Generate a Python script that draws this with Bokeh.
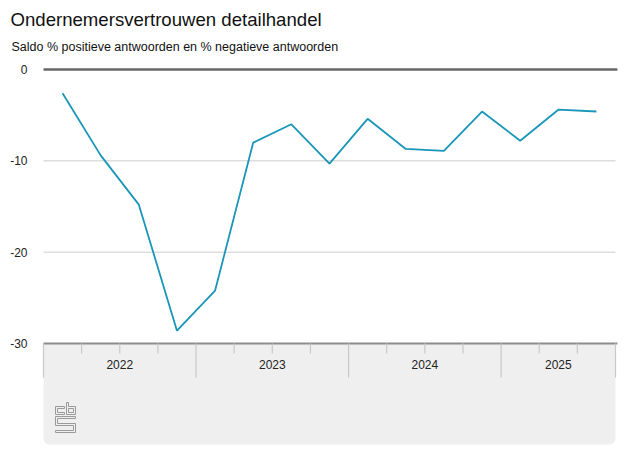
from bokeh.plotting import figure
from bokeh.models import Range1d, BoxAnnotation
from bokeh.core.properties import value
from bokeh.embed import file_html
from bokeh.resources import INLINE

# ---- data ----
years = ["2022", "2023", "2024", "2025"]
quarters_per_year = [4, 4, 4, 3]
saldo = [-2.6, -9.4, -14.8, -28.6, -24.2, -8.0, -6.0, -10.3,
         -5.4, -8.7, -8.9, -4.6, -7.8, -4.4, -4.6]
y_ticks = [0, -10, -20, -30]
y_tick_labels = ["0", "-10", "-20", "-30"]

title_text = "Ondernemersvertrouwen detailhandel"
subtitle_text = "Saldo % positieve antwoorden en % negatieve antwoorden"

FONT = "Liberation Sans"
n = len(saldo)

# ---- layout geometry (canvas pixels) ----
W, H = 619, 462
PLOT_LEFT, PLOT_RIGHT = 43, 615      # left/right of quarter bands
ZERO_Y, MIN_Y = 69, 343              # pixel rows of 0 and -30
QW = (PLOT_RIGHT - PLOT_LEFT) / n
UNIT = (MIN_Y - ZERO_Y) / (y_ticks[0] - y_ticks[-1])

x_lo = -0.5 - PLOT_LEFT / QW
x_hi = x_lo + W / QW
y_hi = y_ticks[0] + ZERO_Y / UNIT
y_lo = y_hi - H / UNIT

def px_x(px):
    return x_lo + px / QW

def px_y(py):
    return y_hi - py / UNIT

p = figure(width=W, height=H, output_backend="svg", toolbar_location=None,
           x_range=Range1d(x_lo, x_hi), y_range=Range1d(y_lo, y_hi),
           min_border=0, background_fill_color="white", border_fill_color="white")
p.outline_line_color = None
p.axis.visible = False
p.grid.visible = False

xa, xb = -0.5, n - 0.5

# gray panel under x axis
p.add_layout(BoxAnnotation(left=xa, right=xb, top=y_ticks[-1], bottom=px_y(444),
                           fill_color="#efefef", fill_alpha=1, line_color=None,
                           border_radius=(0, 0, 6, 6), level="underlay"))

# grid lines
mid = y_ticks[1:-1]
p.segment(x0=[xa] * len(mid), x1=[xb] * len(mid), y0=mid, y1=mid,
          line_color="#dddddd", line_width=1.5)
p.segment(x0=[xa], x1=[xb + 0.05], y0=[y_ticks[0]], y1=[y_ticks[0]],
          line_color="#666666", line_width=2.5)
p.segment(x0=[xa], x1=[xb + 0.05], y0=[y_ticks[-1]], y1=[y_ticks[-1]],
          line_color="#8c8c8c", line_width=2)

# y tick labels
p.text(x=[px_x(27)] * len(y_ticks), y=y_ticks, text=y_tick_labels,
       text_font=value(FONT), text_font_size="12px", text_color="#222222",
       text_align="right", text_baseline="middle")

# category ticks (quarters and years)
bottom = y_ticks[-1]
minor_x, major_x, year_centers = [], [], []
start = 0
major_x.append(start - 0.5)
for q in quarters_per_year:
    for k in range(1, q):
        minor_x.append(start + k - 0.5)
    year_centers.append(start + (q - 1) / 2)
    start += q
    major_x.append(start - 0.5)

p.segment(x0=minor_x, x1=minor_x, y0=[bottom] * len(minor_x), y1=[px_y(353)] * len(minor_x),
          line_color="#c8c8c8", line_width=1.2)
p.segment(x0=major_x, x1=major_x, y0=[bottom] * len(major_x), y1=[px_y(377)] * len(major_x),
          line_color="#c8c8c8", line_width=1.2)
p.text(x=year_centers, y=[px_y(364)] * len(year_centers), text=years,
       text_font=value(FONT), text_font_size="12px", text_color="#222222",
       text_align="center", text_baseline="middle")

# data line
p.line(x=list(range(n)), y=saldo, line_color="#1996b8", line_width=1.8)

# CBS logo (decoration)
logo_paths = [
    [(64, 406), (55, 406), (55, 414), (64, 414), (64, 412), (57, 412), (57, 408), (64, 408), (64, 406)],
    [(66, 402), (66, 414), (75, 414), (75, 406), (68, 406), (68, 402), (66, 402)],
    [(68, 408), (73, 408), (73, 412), (68, 412), (68, 408)],
    [(75, 416), (55, 416), (55, 425), (73, 425), (73, 430), (55, 430), (55, 432), (75, 432),
     (75, 423), (57, 423), (57, 418), (75, 418), (75, 416)],
]
p.multi_line(xs=[[px_x(a) for a, b in path] for path in logo_paths],
             ys=[[px_y(b) for a, b in path] for path in logo_paths],
             line_color="#9a9a9a", line_width=1)

# titles
p.text(x=[px_x(10)], y=[px_y(19)], text=[title_text], text_font=value(FONT),
       text_font_size="18.6px", text_color="#111111", text_baseline="middle")
p.text(x=[px_x(11)], y=[px_y(46)], text=[subtitle_text], text_font=value(FONT),
       text_font_size="12.5px", text_color="#111111", text_baseline="middle")

open("out.html", "w").write(file_html(p, INLINE))
